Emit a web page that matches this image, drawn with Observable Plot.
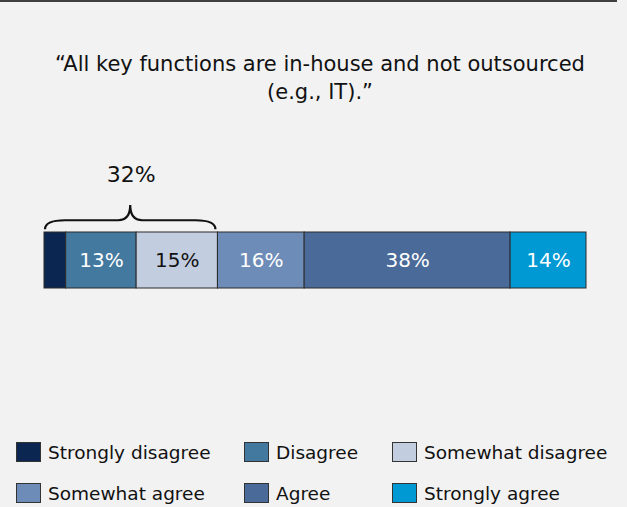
<!DOCTYPE html>
<html><head><meta charset="utf-8">
<script src="https://cdn.jsdelivr.net/npm/d3@7"></script>
<script src="https://cdn.jsdelivr.net/npm/@observablehq/plot@0.6"></script>
<style>
html,body{margin:0;padding:0;background:#f2f2f2;}
body{width:627px;height:507px;overflow:hidden;font-family:"DejaVu Sans",Verdana,sans-serif;position:relative;}
#topline{position:absolute;left:0;top:0;width:617px;height:2px;background:#404040;}
#title{position:absolute;left:0;top:50px;width:640px;text-align:center;font-size:21px;line-height:28px;color:#111;white-space:nowrap;}
#chart{position:absolute;left:0;top:107px;}
.item{position:absolute;display:flex;align-items:center;font-size:18.5px;color:#111;height:20px;white-space:nowrap;}
.sw{width:25px;height:20px;box-sizing:border-box;border:1px solid #333;margin-right:7px;}
</style></head>
<body>
<div id="topline"></div>
<div id="title">“All key functions are in-house and not outsourced<br>(e.g., IT).”</div>
<div id="chart"></div>
<div id="legend"></div>
<script>
const categories = ["Strongly disagree","Disagree","Somewhat disagree","Somewhat agree","Agree","Strongly agree"];
const values = [4,13,15,16,38,14];
const labels = ["","13%","15%","16%","38%","14%"];
const colors = ["#0b2650","#43799f","#c2cde0","#6e8cb8","#4a6a99","#0099d4"];
const labelColors = ["#fff","#fff","#111","#fff","#fff","#fff"];
const braceGroup = [0,1,2]; // disagree side
const braceLabel = "32%";

let acc = 0;
const data = categories.map((c,i)=>{const s=acc; acc+=values[i]; return {cat:c,start:s,end:acc,mid:(s+acc)/2,label:labels[i],color:colors[i],lc:labelColors[i]};});
const braceEnd = data[braceGroup[braceGroup.length-1]].end;
const braceStart = data[braceGroup[0]].start;

function brace(index, scales){
  const x0 = scales.x(braceStart)+1, x1 = scales.x(braceEnd)-2, xt=(x0+x1)/2;
  const yb = scales.y(1.05), ym = scales.y(1.21), yt = scales.y(1.48);
  const r = 20, rt = 12;
  const d = `M${x0},${yb} Q${x0},${ym} ${x0+r},${ym} L${xt-rt},${ym} Q${xt},${ym} ${xt},${yt} Q${xt},${ym} ${xt+rt},${ym} L${x1-r},${ym} Q${x1},${ym} ${x1},${yb}`;
  return d3.create("svg:path").attr("d",d).attr("fill","none").attr("stroke","#111").attr("stroke-width",2.2).node();
}

const chart = Plot.plot({
  width:627, height:323,
  marginLeft:44, marginRight:41, marginTop:41, marginBottom:142,
  x:{domain:[0,100], axis:null},
  y:{domain:[0,2.5], axis:null},
  color:{type:"identity"},
  style:{background:"transparent", fontFamily:"DejaVu Sans, Verdana, sans-serif"},
  marks:[
    Plot.rectX(data,{x1:"start",x2:"end",y1:0,y2:1,fill:"color",stroke:"#2a2a2a",strokeWidth:1}),
    Plot.text(data.filter(d=>d.label),{x:"mid",y:0.5,text:"label",fill:"lc",fontSize:20}),
    brace,
    Plot.text([braceLabel],{x:(braceStart+braceEnd)/2,y:2.02,text:d=>d,fontSize:22,fill:"#111"})
  ]
});
document.getElementById("chart").appendChild(chart);

const legendPos = [[16,442],[244,442],[392,442],[16,483],[244,483],[392,483]];
const leg = document.getElementById("legend");
categories.forEach((c,i)=>{
  const it = document.createElement("div");
  it.className="item";
  it.style.left=legendPos[i][0]+"px"; it.style.top=legendPos[i][1]+"px";
  it.innerHTML=`<div class="sw" style="background:${colors[i]}"></div><span>${c}</span>`;
  leg.appendChild(it);
});
</script>
</body></html>
